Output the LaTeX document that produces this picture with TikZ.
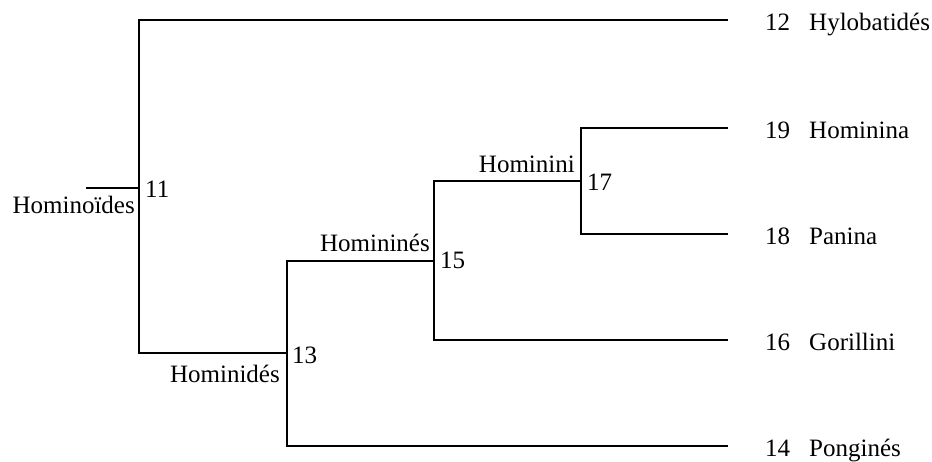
\documentclass[tikz,border=0pt]{standalone}
\usepackage{fontspec}
\setmainfont{Liberation Serif}
\usetikzlibrary{positioning}

\begin{document}
\begin{tikzpicture}[
                x=1pt, y=-1pt, % pixel grid, y going down
                every node/.style={inner sep=0pt, font=\fontsize{25}{30}\selectfont}, % plain text
                branch/.style={draw, line width=1.7pt}, % tree lines
                leaf/.style={anchor=base west}, % taxa on the right
                num/.style={anchor=base west}, % node numbers
                clade/.style={anchor=base east} % clade names
                ]
                \useasboundingbox (0,0) rectangle (932,461);
                % inner nodes
                \coordinate (root) at (86,188);
                \coordinate (n11) at (139,188);
                \coordinate (n13) at (287,353);
                \coordinate (n15) at (434,261);
                \coordinate (n17) at (581,181);
                % tips
                \coordinate (t12) at (728,20);
                \coordinate (t19) at (728,128);
                \coordinate (t18) at (728,234);
                \coordinate (t16) at (728,340);
                \coordinate (t14) at (728,446);
                % branches
                \draw[branch] (root) -- (n11);
                \draw[branch] (t12) -| (n11) |- (n13);
                \draw[branch] (n15) -| (n13) |- (t14);
                \draw[branch] (n17) -| (n15) |- (t16);
                \draw[branch] (t19) -| (n17) |- (t18);
                % taxa
                \node[leaf] (l12) at ([shift={(37,10)}]t12) {12\hspace{19pt}Hylobatidés};
                \node[leaf] (l19) at ([shift={(37,10)}]t19) {19\hspace{19pt}Hominina};
                \node[leaf] (l18) at ([shift={(37,10)}]t18) {18\hspace{19pt}Panina};
                \node[leaf] (l16) at ([shift={(37,10)}]t16) {16\hspace{19pt}Gorillini};
                \node[leaf] (l14) at ([shift={(37,10)}]t14) {14\hspace{19pt}Ponginés};
                % node numbers and clades
                \node[num] (c11) at ([shift={(6,9)}]n11) {11};
                \node[clade] (h11) at ([shift={(-4,25)}]n11) {Hominoïdes};
                \node[num] (c13) at ([shift={(5,10)}]n13) {13};
                \node[clade] (h13) at ([shift={(-7,29)}]n13) {Hominidés};
                \node[num] (c15) at ([shift={(6,7)}]n15) {15};
                \node[clade] (h15) at ([shift={(-4,-10)}]n15) {Homininés};
                \node[num] (c17) at ([shift={(6,9)}]n17) {17};
                \node[clade] (h17) at ([shift={(-6,-9)}]n17) {Hominini};
\end{tikzpicture}
\end{document}
